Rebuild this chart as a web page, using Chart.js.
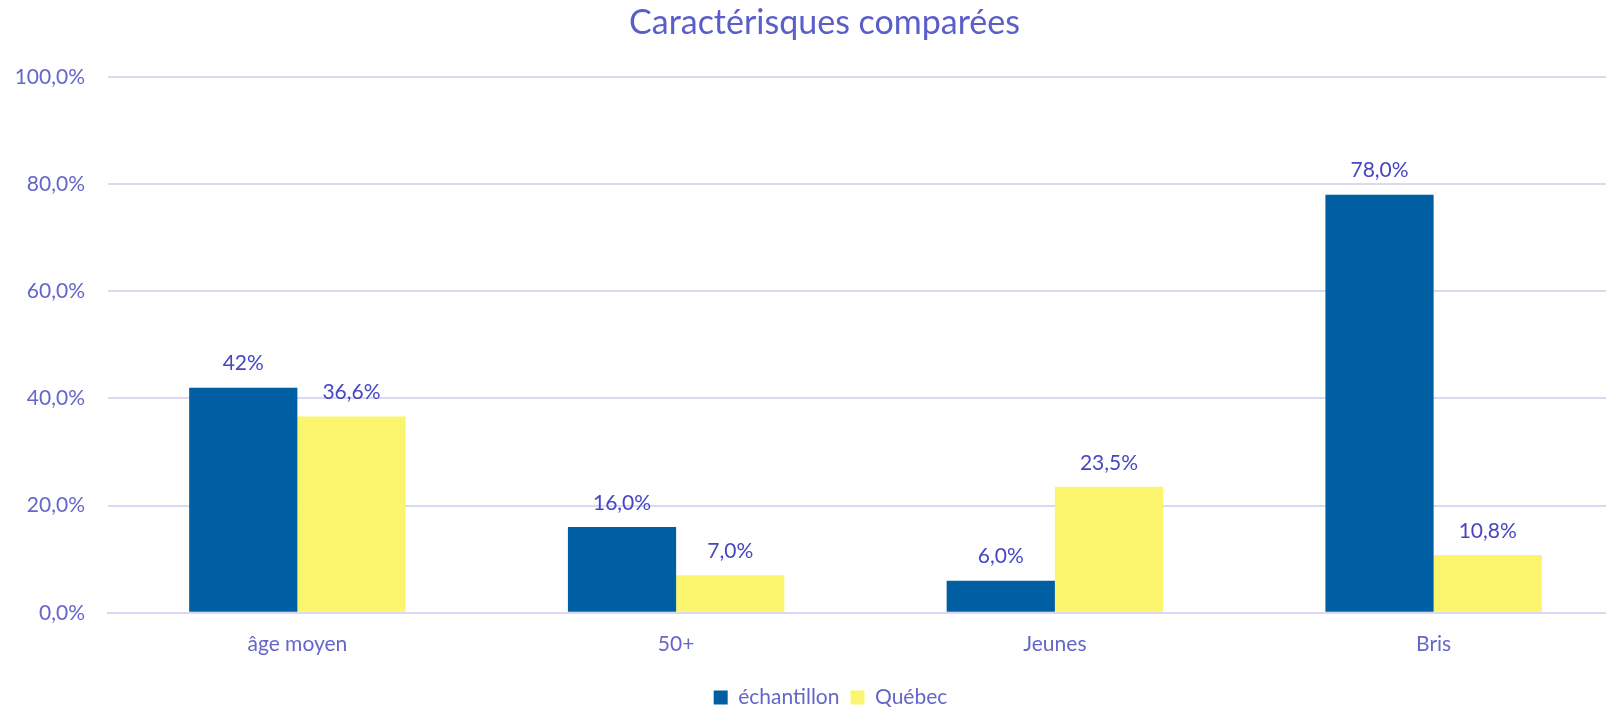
<!DOCTYPE html>
<html lang="fr">

<head>
  <meta charset="UTF-8" />
  <title>Caractérisques comparées</title>
  <style>
    html, body { margin: 0; padding: 0; overflow: hidden; background: #fff; }
    #div_canva { position: relative; width: 1652px; height: 708px; }
  </style>
</head>

<body>
  <div id="div_canva">
    <canvas id="myChart"></canvas>
  </div>

  <script src="https://cdn.jsdelivr.net/npm/chart.js"></script>
  <script>
    // données
    const categories = ["âge moyen", "50+", "Jeunes", "Bris"];
    const echantillon = [42, 16, 6, 78];
    const quebec = [36.6, 7.0, 23.5, 10.8];
    const echantillonLabels = ["42%", "16,0%", "6,0%", "78,0%"];
    const quebecLabels = ["36,6%", "7,0%", "23,5%", "10,8%"];
    const yTicks = ["0,0%", "20,0%", "40,0%", "60,0%", "80,0%", "100,0%"];

    const police = "Lato";

    // étiquettes au-dessus des barres
    const etiquettes = {
      id: "etiquettes",
      afterDatasetsDraw(chart) {
        const ctx = chart.ctx;
        ctx.save();
        ctx.font = "21px " + police;
        ctx.fillStyle = "#4646C4";
        ctx.textAlign = "center";
        ctx.textBaseline = "middle";
        chart.data.datasets.forEach((ds, i) => {
          chart.getDatasetMeta(i).data.forEach((bar, j) => {
            ctx.fillText(ds.etiquettes[j], bar.x, bar.y - 24);
          });
        });
        ctx.restore();
      }
    };

    // le graphique d'origine est coupé à droite : titre et légende centrés sur toute sa largeur
    const centrage = {
      id: "centrage",
      afterLayout(chart) {
        chart.titleBlock.left += 26;
        chart.legend.left += 38;
      }
    };

    const ctx = document.getElementById("myChart").getContext("2d");

    new Chart(ctx, {
      type: "bar",
      data: {
        labels: categories,
        datasets: [
          {
            label: "échantillon",
            data: echantillon,
            etiquettes: echantillonLabels,
            backgroundColor: "#005EA2",
            borderWidth: 0
          },
          {
            label: "Québec",
            data: quebec,
            etiquettes: quebecLabels,
            backgroundColor: "#FAF56D",
            borderWidth: 0
          }
        ]
      },
      options: {
        responsive: true,
        maintainAspectRatio: false,
        animation: false,
        barPercentage: 1,
        categoryPercentage: 2 / 3.5,
        layout: {
          padding: { left: 0, right: 29, top: 0, bottom: -10 }
        },
        scales: {
          y: {
            min: 0,
            max: 100,
            ticks: {
              stepSize: 20,
              padding: 23,
              color: "#6466C9",
              font: { family: police, size: 21 },
              callback: (v, i) => yTicks[i]
            },
            grid: { color: "#D9D9F3", lineWidth: 2, drawTicks: false },
            border: { display: false },
            afterFit: (scale) => { scale.width = 108; }
          },
          x: {
            ticks: {
              padding: 19,
              color: "#6466C9",
              font: { family: police, size: 21 }
            },
            grid: { display: false, drawTicks: false },
            border: { color: "#D9D9F3", width: 2 }
          }
        },
        plugins: {
          tooltip: { enabled: false },
          legend: {
            position: "bottom",
            labels: {
              color: "#6466C9",
              font: { family: police, size: 21 },
              boxWidth: 14,
              boxHeight: 14,
              padding: 11
            }
          },
          title: {
            display: true,
            text: "Caractérisques comparées",
            color: "#5A5ECB",
            font: { family: police, size: 34, weight: "normal" },
            padding: { top: 3, bottom: 33 }
          }
        }
      },
      plugins: [etiquettes, centrage]
    });
  </script>
</body>

</html>
